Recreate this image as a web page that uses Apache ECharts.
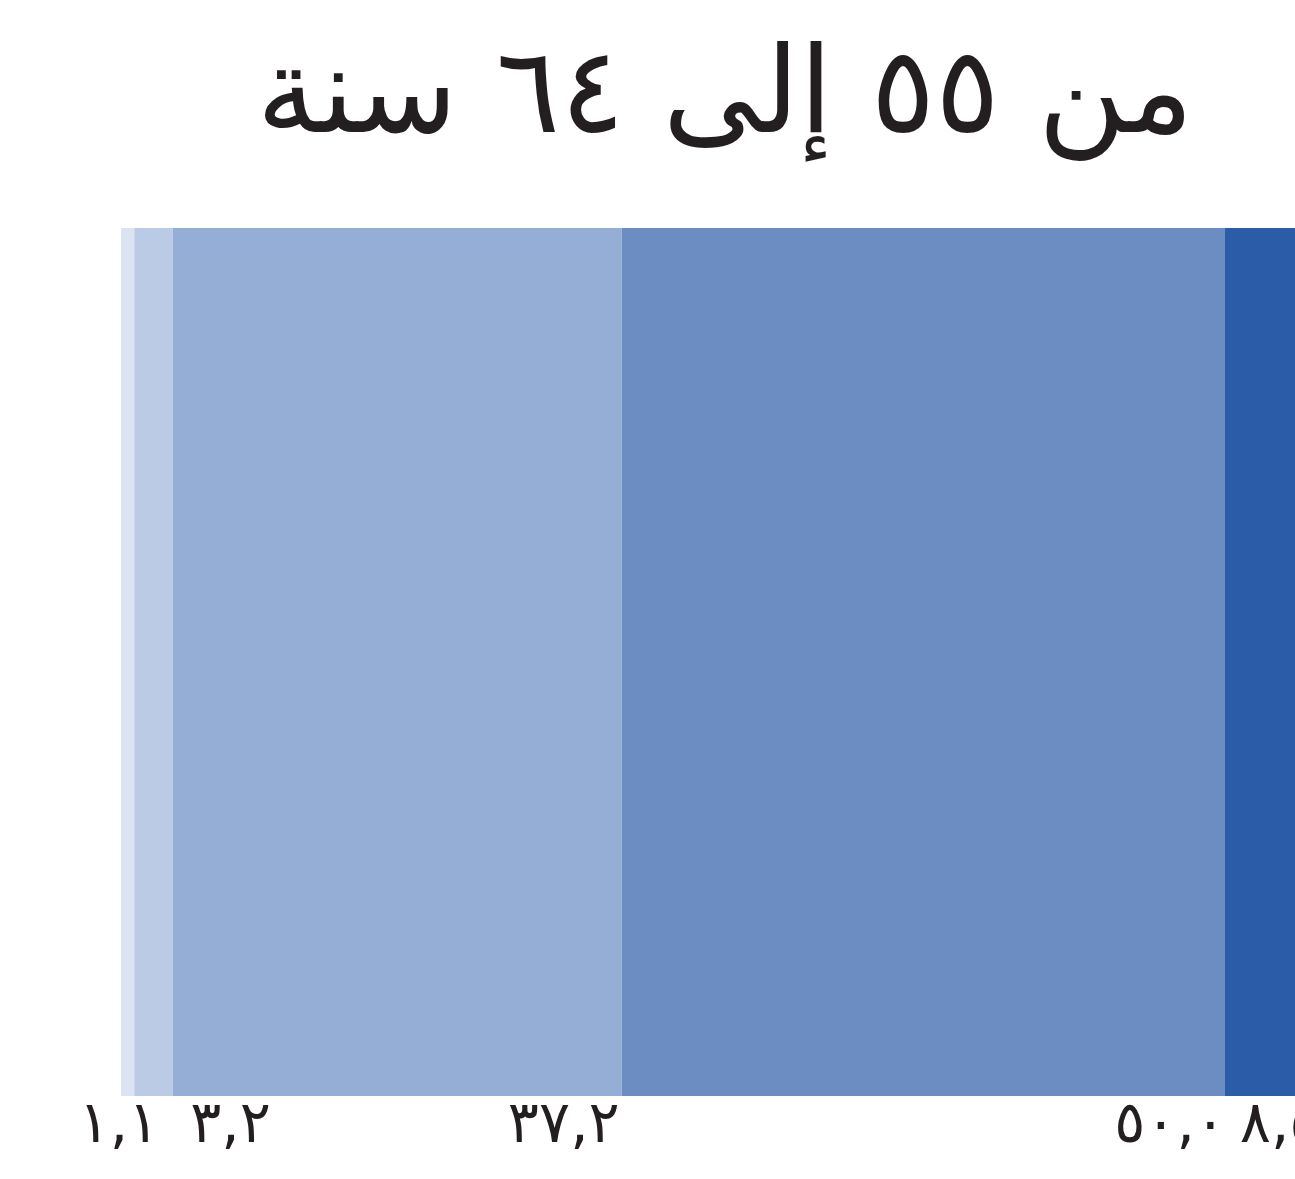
<!DOCTYPE html>
<html>
<head>
<meta charset="utf-8">
<script src="https://cdn.jsdelivr.net/npm/echarts@6/dist/echarts.min.js"></script>
<style>
html,body{margin:0;padding:0;background:#fff;}
#c{width:1295px;height:1179px;}
</style>
</head>
<body>
<div id="c"></div>
<script>
const titleText = 'من ٥٥ إلى ٦٤ سنة';
const categories = ['من ٥٥ إلى ٦٤ سنة'];
const segmentNames = ['s1', 's2', 's3', 's4', 's5'];
const segmentValues = [1.1, 3.2, 37.2, 50.0, 8.5];
const segmentColors = ['#dbe2f1', '#bccbe5', '#95aed5', '#6b8dc2', '#2b5ca8'];
const labelOffsets = [25, 98, -2, 1, -7];
const axisMax = 97.3;

function toArabic(v) {
  const d = '٠١٢٣٤٥٦٧٨٩';
  return v.toFixed(1).replace('.', ',').replace(/[0-9]/g, c => d[+c]);
}

const chart = echarts.init(document.getElementById('c'), null, {renderer: 'canvas'});
const series = segmentValues.map((v, i) => ({
  name: segmentNames[i],
  type: 'bar',
  stack: 'total',
  barWidth: '100%',
  barCategoryGap: 0,
  clip: false,
  data: [v],
  itemStyle: {color: segmentColors[i]},
  label: {
    show: true,
    position: ['100%', '100%'],
    align: 'right',
    verticalAlign: 'top',
    offset: [labelOffsets[i], 2],
    formatter: p => toArabic(p.value),
    fontFamily: 'DejaVu Sans',
    fontWeight: 'normal',
    fontSize: 58,
    color: '#231f20'
  }
}));

chart.setOption({
  animation: false,
  title: {
    text: titleText,
    left: 720,
    textAlign: 'center',
    top: 36,
    textStyle: {fontFamily: 'DejaVu Sans', fontWeight: 'normal', fontSize: 120, color: '#231f20'}
  },
  grid: {left: 121, right: 0, top: 228, bottom: 83, containLabel: false},
  xAxis: {type: 'value', min: 0, max: axisMax, show: false},
  yAxis: {type: 'category', data: categories, show: false},
  series: series
});
</script>
</body>
</html>
